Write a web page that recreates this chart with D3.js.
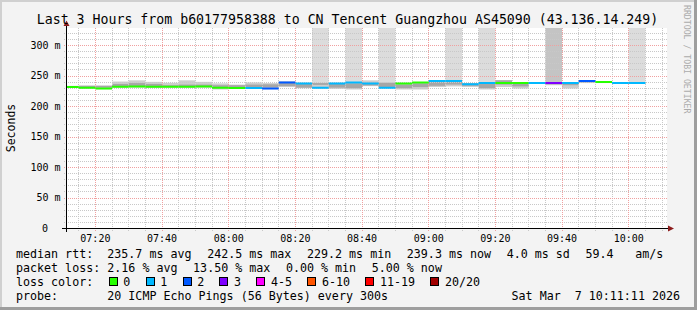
<!DOCTYPE html>
<html>
<head>
<meta charset="utf-8">
<script src="https://cdn.jsdelivr.net/npm/d3@7"></script>
<style>
html, body { margin: 0; padding: 0; background: #f3f3f3; }
svg { display: block; }
text { font-family: "DejaVu Sans Mono", monospace; fill: #000; }
</style>
</head>
<body>
<svg id="chart" width="697" height="310"></svg>
<script>
// chart data
var title = "Last 3 Hours from b60177958388 to CN Tencent Guangzhou AS45090 (43.136.14.249)";
var startTime = "07:11:11", endTime = "10:11:11";
var yMax = 328;

// 5 minute steps (start of each step)
var stepStart = ["07:10","07:15","07:20","07:25","07:30","07:35","07:40","07:45","07:50","07:55",
                 "08:00","08:05","08:10","08:15","08:20","08:25","08:30","08:35","08:40","08:45",
                 "08:50","08:55","09:00","09:05","09:10","09:15","09:20","09:25","09:30","09:35",
                 "09:40","09:45","09:50","09:55","10:00"];
// median rtt, ms
var medianMs = [232.2,231.0,229.5,232.5,233.0,232.5,232.5,232.5,233.0,231.0,
                230.5,230.5,229.5,239.3,237.7,231.0,237.7,239.3,237.7,231.0,
                237.7,239.3,242.1,242.1,236.5,238.8,238.8,238.8,238.8,238.8,
                238.8,242.1,240.4,238.8,238.8];
// lost pings out of 20
var lossCount = [0,0,0,0,0,0,0,0,0,0,
                 0,1,2,2,1,1,1,1,1,1,
                 0,0,1,1,1,1,0,0,1,3,
                 1,2,0,1,1];
// smoke (spread of the pings), ms
var smokeLo = [231.0,229.5,228.5,231.0,231.0,230.5,231.0,231.0,231.0,228.0,
               229.5,229.5,228.5,232.0,230.0,229.5,229.0,228.0,233.5,230.0,
               228.0,228.0,232.0,233.0,232.0,228.0,232.0,229.5,237.0,235.0,
               229.5,238.5,238.5,237.5,237.5];
var smokeHi = [234.0,234.5,234.5,241.0,243.0,240.5,239.0,243.0,240.5,238.0,
               236.0,239.5,238.5,241.5,239.0,239.0,239.0,239.0,243.0,239.5,
               238.5,240.0,243.0,242.0,238.5,238.0,243.5,239.5,240.0,239.5,
               239.5,243.0,241.5,239.5,240.0];
var coreLo  = [231.5,231.5,231.0,233.0,233.0,232.0,232.0,232.0,232.0,230.5,
               231.5,231.0,231.5,233.5,231.0,235.5,231.0,230.0,234.5,232.0,
               230.0,232.0,234.0,236.0,234.0,230.0,236.0,233.0,238.0,236.5,
               235.0,239.5,239.0,238.0,238.0];
var coreHi  = [233.0,234.0,234.0,237.0,238.5,237.0,235.0,236.0,236.0,235.0,
               235.0,236.0,236.5,239.0,237.5,238.5,237.0,238.0,239.0,239.0,
               236.0,238.0,241.0,241.0,238.0,237.0,243.0,239.0,239.5,239.0,
               239.0,242.0,241.0,239.0,239.5];
// pings far above the chart range (drawn as columns to the top)
var spikePings = [0,0,0,0,0,0,0,0,0,0,
                  0,0,0,0,0,1,0,1,0,1,
                  0,0,0,1,0,1,0,0,0,3,
                  0,0,0,0,1];

var lossLabels = ["0","1","2","3","4-5","6-10","11-19","20/20"];
var lossColors = ["#26ff00","#00b8ff","#0059ff","#7e00ff","#ff00ff","#ff5500","#ff0000","#a10000"];
var medianStats = [235.7, 242.5, 229.2, 239.3];
var medianSd = 4.0, medianAmS = 59.4;
var lossStats = [2.16, 13.50, 0.00, 5.00];
var probeText = "20 ICMP Echo Pings (56 Bytes) every 300s";
var dateText = "Sat Mar  7 10:11:11 2026";

function lossColor(n) {
    if (n <= 3) return lossColors[n];
    if (n <= 5) return lossColors[4];
    if (n <= 10) return lossColors[5];
    if (n <= 19) return lossColors[6];
    return lossColors[7];
}

var svg = d3.select("#chart");
var W = 697, H = 310;
var plotL = 66, plotR = 666, plotT = 28.5, plotB = 228.5;

// frame
svg.append("rect").attr("width", W).attr("height", H).attr("fill", "#f3f3f3");
svg.append("rect").attr("x", 0).attr("y", 0).attr("width", W).attr("height", 2).attr("fill", "#d0d0d0");
svg.append("rect").attr("x", 0).attr("y", 0).attr("width", 2).attr("height", H).attr("fill", "#d0d0d0");
svg.append("rect").attr("x", W - 3).attr("y", 0).attr("width", 3).attr("height", H).attr("fill", "#9e9e9e");
svg.append("rect").attr("x", 0).attr("y", H - 3).attr("width", W).attr("height", 3).attr("fill", "#9e9e9e");

var parseT = d3.timeParse("%H:%M:%S"),
    parseHM = d3.timeParse("%H:%M");
var t0 = parseT(startTime), t1 = parseT(endTime);

var x = d3.scaleTime().domain([t0, t1]).range([plotL, plotR]);
var y = d3.scaleLinear().domain([0, yMax]).range([plotB, plotT]);

// canvas
svg.append("rect").attr("x", plotL).attr("y", 28).attr("width", plotR - plotL + 1).attr("height", 200.5).attr("fill", "#ffffff");

svg.append("clipPath").attr("id", "plotclip")
    .append("rect").attr("x", plotL).attr("y", 28).attr("width", plotR - plotL).attr("height", 200.5);

var steps = stepStart.map(function (s, i) {
    var ts = parseHM(s);
    return {
        x0: x(ts), x1: x(d3.timeMinute.offset(ts, 5)),
        med: medianMs[i], loss: lossCount[i],
        lo: smokeLo[i], hi: smokeHi[i], clo: coreLo[i], chi: coreHi[i],
        spike: spikePings[i]
    };
});

var plot = svg.append("g").attr("clip-path", "url(#plotclip)");

// columns for pings above the chart
plot.selectAll("rect.spike").data(steps.filter(function (d) { return d.spike > 0; }))
    .enter().append("rect").attr("class", "spike")
    .attr("x", function (d) { return d.x0; })
    .attr("width", function (d) { return d.x1 - d.x0; })
    .attr("y", 28)
    .attr("height", function (d) { return y(d.chi) - 28; })
    .attr("fill", function (d) { return d.spike > 1 ? "#c4c4c4" : "#dcdcdc"; });

// smoke
plot.selectAll("rect.smoke").data(steps)
    .enter().append("rect").attr("class", "smoke")
    .attr("x", function (d) { return d.x0; })
    .attr("width", function (d) { return d.x1 - d.x0; })
    .attr("y", function (d) { return y(d.hi); })
    .attr("height", function (d) { return y(d.lo) - y(d.hi); })
    .attr("fill", "#cdcdcd");
plot.selectAll("rect.core").data(steps)
    .enter().append("rect").attr("class", "core")
    .attr("x", function (d) { return d.x0; })
    .attr("width", function (d) { return d.x1 - d.x0; })
    .attr("y", function (d) { return y(d.chi); })
    .attr("height", function (d) { return y(d.clo) - y(d.chi); })
    .attr("fill", "#a6a6a6");

// grid
var grid = svg.append("g").attr("shape-rendering", "crispEdges");
var minorY = d3.range(10, yMax, 10).filter(function (v) { return v % 50 !== 0; });
var majorY = d3.range(50, yMax, 50);
var tickTimes = d3.timeMinute.every(5).range(t0, t1);
var minorX = tickTimes.filter(function (t) { return t.getMinutes() % 20 !== 0; });
var majorX = tickTimes.filter(function (t) { return t.getMinutes() % 20 === 0; });

function hLine(v) { return Math.floor(y(v)) + 0.5; }
function vLine(t) { return Math.floor(x(t)) + 0.5; }

grid.selectAll("line.ym").data(minorY).enter().append("line")
    .attr("x1", plotL - 2).attr("x2", plotR + 1)
    .attr("y1", hLine).attr("y2", hLine)
    .attr("stroke", "#c8c8c8").attr("stroke-dasharray", "1,1");
grid.selectAll("line.xm").data(minorX).enter().append("line")
    .attr("x1", vLine).attr("x2", vLine)
    .attr("y1", 28).attr("y2", plotB + 2)
    .attr("stroke", "#c8c8c8").attr("stroke-dasharray", "1,1");
grid.selectAll("line.yM").data(majorY).enter().append("line")
    .attr("x1", plotL - 2).attr("x2", plotR + 1)
    .attr("y1", hLine).attr("y2", hLine)
    .attr("stroke", "#f0a0a0").attr("stroke-dasharray", "1,1");
grid.selectAll("line.xM").data(majorX).enter().append("line")
    .attr("x1", vLine).attr("x2", vLine)
    .attr("y1", 28).attr("y2", plotB + 2)
    .attr("stroke", "#f0a0a0").attr("stroke-dasharray", "1,1");

// median line, coloured by loss (on top of the grid)
var medLayer = svg.append("g").attr("clip-path", "url(#plotclip)");
medLayer.selectAll("line.median").data(steps)
    .enter().append("line").attr("class", "median")
    .attr("x1", function (d) { return d.x0; })
    .attr("x2", function (d) { return d.x1; })
    .attr("y1", function (d) { return y(d.med); })
    .attr("y2", function (d) { return y(d.med); })
    .attr("stroke", function (d) { return lossColor(d.loss); })
    .attr("stroke-width", 2);

// axes
var axes = svg.append("g").attr("shape-rendering", "crispEdges");
axes.append("line").attr("x1", plotL - 4).attr("x2", plotR + 2).attr("y1", 228.5).attr("y2", 228.5).attr("stroke", "#000");
axes.append("line").attr("x1", plotL + 0.5).attr("x2", plotL + 0.5).attr("y1", 232).attr("y2", 25).attr("stroke", "#000");
svg.append("path").attr("d", "M668,225.5L674,228.5L668,231.5Z").attr("fill", "#8c1c1c");
svg.append("path").attr("d", "M63.5,26L66.5,20.5L69.5,26Z").attr("fill", "#8c1c1c");

// tick labels
var fmtHM = d3.timeFormat("%H:%M");
svg.selectAll("text.xl").data(majorX).enter().append("text")
    .attr("x", function (t) { return x(t); }).attr("y", 241.7)
    .attr("text-anchor", "middle").style("font-size", "10px")
    .text(fmtHM);
svg.selectAll("text.yl").data(d3.range(0, yMax, 50)).enter().append("text")
    .attr("x", function (v) { return v === 0 ? 48 : 60.5; })
    .attr("y", function (v) { return y(v) + 3.4; })
    .attr("text-anchor", "end").style("font-size", "10px")
    .text(function (v) { return v === 0 ? "0" : v + " m"; });

svg.append("text")
    .attr("transform", "translate(15,128) rotate(-90)")
    .attr("text-anchor", "middle").style("font-size", "11.5px")
    .text("Seconds");

svg.append("text")
    .attr("x", 347.5).attr("y", 24)
    .attr("text-anchor", "middle").style("font-size", "13.24px")
    .text(title);

svg.append("text")
    .attr("transform", "translate(684.3,5) rotate(90)")
    .style("font-size", "8.2px").style("fill", "#ababab")
    .text("RRDTOOL / TOBI OETIKER");

// legend
var charW = 7.02, gap = 15.6;
var lg = svg.append("g").style("font-size", "11.66px");
function put(txt, px, py) {
    lg.append("text").attr("xml:space", "preserve").attr("x", px).attr("y", py).text(txt);
    return px + txt.length * charW + gap;
}

var row1 = 258.3, row2 = 272.3, row3 = 286, row4 = 300;
put("median rtt:", 16, row1);
var cx = 107.3;
cx = put(medianStats[0].toFixed(1) + " ms avg", cx, row1);
cx = put(medianStats[1].toFixed(1) + " ms max", cx, row1);
cx = put(medianStats[2].toFixed(1) + " ms min", cx, row1);
cx = put(medianStats[3].toFixed(1) + " ms now", cx, row1);
cx = put(medianSd.toFixed(1) + " ms sd", cx, row1);
put(medianAmS.toFixed(1), cx, row1);
put("am/s", 635.3, row1);

put("packet loss:", 16, row2);
cx = 107.3;
cx = put(lossStats[0].toFixed(2) + " % avg", cx, row2);
cx = put(lossStats[1].toFixed(2) + " % max", cx, row2);
cx = put(lossStats[2].toFixed(2) + " % min", cx, row2);
put(lossStats[3].toFixed(2) + " % now", cx, row2);

put("loss color:", 16, row3);
var bx = 108.7;
lossLabels.forEach(function (lab, i) {
    lg.append("rect").attr("x", Math.round(bx) + 0.5).attr("y", 277.5)
        .attr("width", 8).attr("height", 8)
        .attr("fill", lossColors[i]).attr("stroke", "#000").attr("stroke-width", 1);
    put(lab, bx + 14.6, row3);
    bx = bx + 14.6 + lab.length * charW + 15.3;
});

put("probe:", 16, row4);
put(probeText, 107.3, row4);
lg.append("text").attr("xml:space", "preserve").attr("x", 680).attr("y", row4)
    .attr("text-anchor", "end").text(dateText);
</script>
</body>
</html>
